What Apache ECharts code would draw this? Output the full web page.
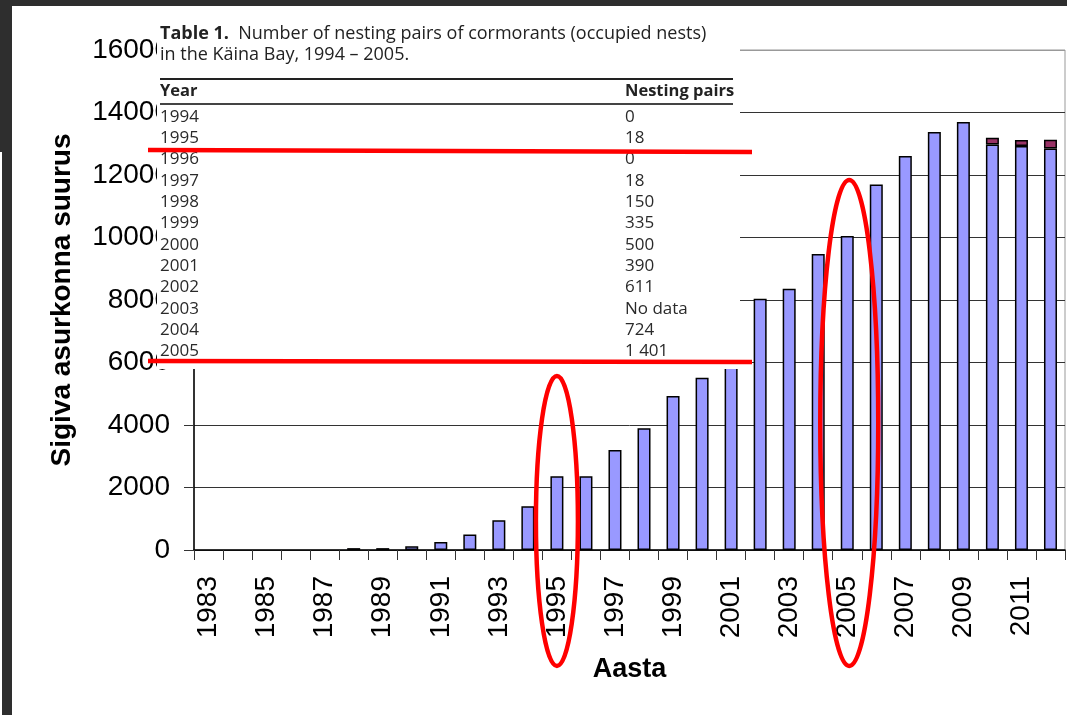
<!DOCTYPE html>
<html>
<head>
<meta charset="utf-8">
<title>Sigiva asurkonna suurus</title>
<script src="https://cdn.jsdelivr.net/npm/echarts@6/dist/echarts.min.js"></script>
<style>
  html, body { margin: 0; padding: 0; background: #fff; }
  #main { width: 1067px; height: 715px; }
</style>
</head>
<body>
<div id="main"></div>
<script>
// aastad ja pesitsevate paaride arv (loetud pildilt)
const years = ['1983', '1984', '1985', '1986', '1987', '1988', '1989', '1990', '1991', '1992',
  '1993', '1994', '1995', '1996', '1997', '1998', '1999', '2000', '2001', '2002',
  '2003', '2004', '2005', '2006', '2007', '2008', '2009', '2010', '2011', '2012'];
const baseValues = [0, 0, 0, 0, 0, 60, 60, 120, 260, 500,
  950, 1400, 2360, 2360, 3200, 3900, 4930, 5510, 5900, 8040,
  8360, 9470, 10050, 11700, 12610, 13380, 13700, 12980, 12930, 12850];
const topValues = [null, null, null, null, null, null, null, null, null, null,
  null, null, null, null, null, null, null, null, null, null,
  null, null, null, null, null, null, null, 210, 190, 280];
const yMin = 0;
const yMax = 16000;
const yStep = 2000;

// tabel 1 (Käina laht)
const tableYears = ['1994', '1995', '1996', '1997', '1998', '1999', '2000', '2001', '2002', '2003', '2004', '2005'];
const tablePairs = ['0', '18', '0', '18', '150', '335', '500', '390', '611', 'No data', '724', '1 401'];

// ringitud aastad
const circled = ['1995', '2005'];

const chartDom = document.getElementById('main');
const myChart = echarts.init(chartDom, null, { renderer: 'canvas' });

const font = 'Liberation Sans, Arial, sans-serif';
const tableFont = 'Open Sans, Lato, sans-serif';

const option = {
  animation: false,
  backgroundColor: '#fff',
  grid: {
    left: 194,
    right: 2,
    top: 50,
    bottom: 165,
    show: true,
    borderColor: '#999',
    borderWidth: 1,
    backgroundColor: 'transparent'
  },
  xAxis: {
    type: 'category',
    data: years,
    boundaryGap: true,
    name: 'Aasta',
    nameLocation: 'middle',
    nameGap: 106,
    nameTextStyle: { fontFamily: font, fontSize: 27, fontWeight: 'bold', color: '#000' },
    axisLine: { show: true, lineStyle: { color: '#000', width: 1.5 } },
    axisTick: { show: true, interval: 0, length: 10, alignWithLabel: false, lineStyle: { color: '#333' } },
    axisLabel: { interval: 1, rotate: 90, margin: 26, fontFamily: font, fontSize: 28, color: '#000' },
    splitLine: { show: false }
  },
  yAxis: {
    type: 'value',
    min: yMin,
    max: yMax,
    interval: yStep,
    name: 'Sigiva asurkonna suurus',
    nameLocation: 'middle',
    nameGap: 118,
    nameTextStyle: { fontFamily: font, fontSize: 28, fontWeight: 'bold', color: '#000' },
    axisLine: { show: true, lineStyle: { color: '#000', width: 1.5 } },
    axisTick: { show: true, length: 10, lineStyle: { color: '#333' } },
    axisLabel: {
      margin: 24, fontFamily: font, fontSize: 28, color: '#000',
      formatter: function (v) { return String(v); }
    },
    splitLine: {
      show: true,
      lineStyle: { color: ['#333', '#333', '#333', '#333', '#333', '#333', '#333', '#333', '#999'], width: 1 }
    }
  },
  series: [
    {
      name: 'base',
      type: 'bar',
      stack: 'total',
      barWidth: 13,
      // nullväärtusega aastad jäävad tühjaks
      data: baseValues.map(function (v) { return v === 0 ? null : v; }),
      itemStyle: { color: '#9999ff', borderColor: '#000', borderWidth: 1.5 }
    },
    {
      name: 'top',
      type: 'bar',
      stack: 'total',
      barWidth: 13,
      data: topValues,
      itemStyle: { color: '#993366', borderColor: '#000', borderWidth: 1.5 }
    }
  ]
};

myChart.setOption(option);

// ülekatted: tabel, punased jooned ja ellipsid
function buildGraphic() {
  const els = [];
  // tume raam
  els.push({ type: 'rect', z: 120, shape: { x: 0, y: 0, width: 1067, height: 6 }, style: { fill: '#2e2e2e' } });
  els.push({ type: 'rect', z: 120, shape: { x: 0, y: 0, width: 12, height: 152 }, style: { fill: '#2e2e2e' } });
  els.push({ type: 'rect', z: 120, shape: { x: 2, y: 152, width: 10, height: 563 }, style: { fill: '#2e2e2e' } });

  // tabeli taust
  els.push({ type: 'rect', z: 100, shape: { x: 157, y: 14, width: 583, height: 355 }, style: { fill: '#fff' } });
  els.push({
    type: 'text', z: 101, x: 160, y: 34,
    style: {
      text: '{b|Table 1.}  Number of nesting pairs of cormorants (occupied nests)',
      fill: '#222', fontFamily: tableFont, fontSize: 18, verticalAlign: 'middle',
      rich: { b: { fontWeight: 'bold', fontFamily: tableFont, fontSize: 18, fill: '#222' } }
    }
  });
  els.push({
    type: 'text', z: 101, x: 160, y: 55,
    style: { text: 'in the Käina Bay, 1994 – 2005.', fill: '#222', fontFamily: tableFont, fontSize: 18, verticalAlign: 'middle' }
  });
  els.push({ type: 'line', z: 101, shape: { x1: 160, y1: 79, x2: 733, y2: 79 }, style: { stroke: '#222', lineWidth: 2 } });
  els.push({
    type: 'text', z: 101, x: 160, y: 91,
    style: { text: 'Year', fill: '#222', fontFamily: tableFont, fontSize: 16.5, fontWeight: 'bold', verticalAlign: 'middle' }
  });
  els.push({
    type: 'text', z: 101, x: 625, y: 91,
    style: { text: 'Nesting pairs', fill: '#222', fontFamily: tableFont, fontSize: 16.5, fontWeight: 'bold', verticalAlign: 'middle' }
  });
  els.push({ type: 'line', z: 101, shape: { x1: 160, y1: 104, x2: 733, y2: 104 }, style: { stroke: '#444', lineWidth: 2 } });
  tableYears.forEach(function (yr, i) {
    const y = 117 + i * 21.3;
    els.push({ type: 'text', z: 101, x: 160, y: y, style: { text: yr, fill: '#2a2a2a', fontFamily: tableFont, fontSize: 17, verticalAlign: 'middle' } });
    els.push({ type: 'text', z: 101, x: 625, y: y, style: { text: tablePairs[i], fill: '#2a2a2a', fontFamily: tableFont, fontSize: 17, verticalAlign: 'middle' } });
  });

  // punased jooned
  els.push({ type: 'line', z: 110, shape: { x1: 148, y1: 150, x2: 752, y2: 152 }, style: { stroke: '#ff0000', lineWidth: 4.5 } });
  els.push({ type: 'line', z: 110, shape: { x1: 148, y1: 361, x2: 752, y2: 362 }, style: { stroke: '#ff0000', lineWidth: 4.5 } });

  // punased ellipsid ümber 1995 ja 2005
  const e1x = myChart.convertToPixel({ xAxisIndex: 0 }, circled[0]);
  const e2x = myChart.convertToPixel({ xAxisIndex: 0 }, circled[1]);
  els.push({ type: 'ellipse', z: 110, shape: { cx: e1x, cy: 521, rx: 21, ry: 145 }, style: { fill: 'none', stroke: '#ff0000', lineWidth: 4.5 } });
  els.push({ type: 'ellipse', z: 110, shape: { cx: e2x + 2, cy: 423, rx: 29, ry: 243 }, style: { fill: 'none', stroke: '#ff0000', lineWidth: 4.5 } });
  return els;
}

myChart.setOption({ graphic: { elements: buildGraphic() } });
</script>
</body>
</html>
